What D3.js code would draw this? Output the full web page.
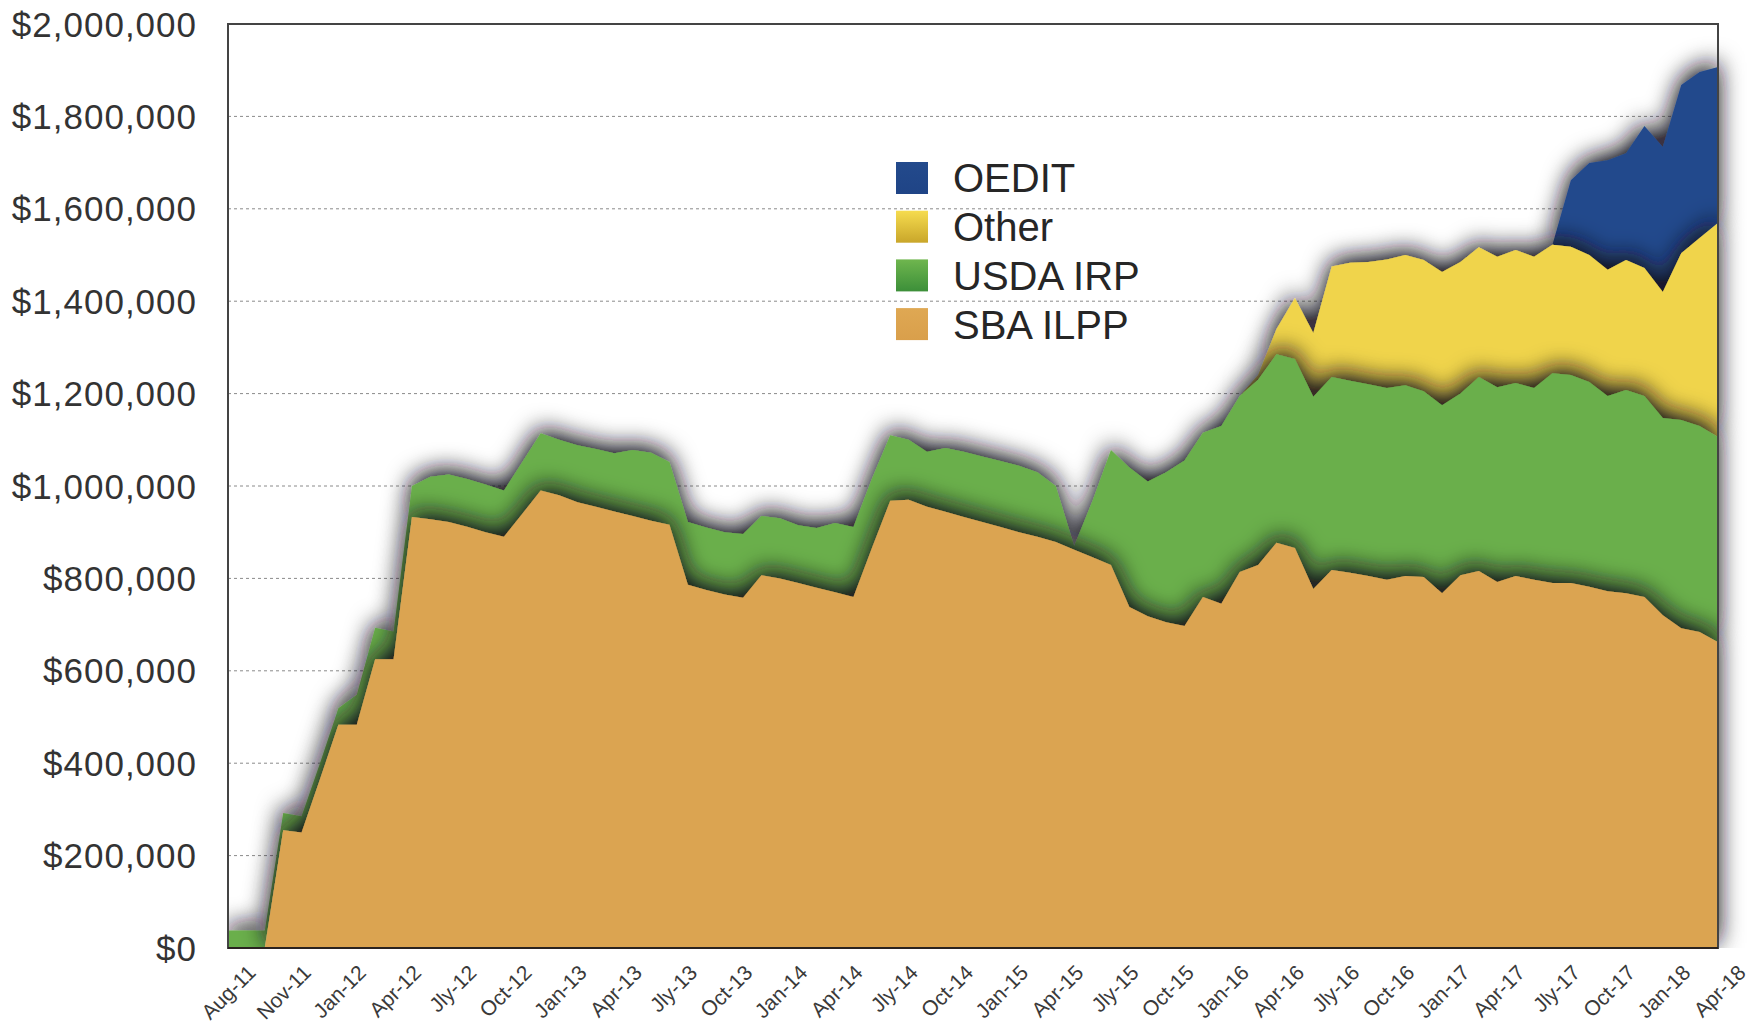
<!DOCTYPE html>
<html>
<head>
<meta charset="utf-8">
<script src="https://cdn.jsdelivr.net/npm/d3@7"></script>
<style>
    body { margin: 0; background: #fff; }
    svg { display: block; font-family: "Liberation Sans", Arial, sans-serif; }
</style>
</head>
<body>
<svg width="1761" height="1027"></svg>
<script>
// tick labels under the x axis, one every third data point
const tickLabels = ["Aug-11", "Nov-11", "Jan-12", "Apr-12", "Jly-12", "Oct-12", "Jan-13", "Apr-13",
    "Jly-13", "Oct-13", "Jan-14", "Apr-14", "Jly-14", "Oct-14", "Jan-15", "Apr-15", "Jly-15",
    "Oct-15", "Jan-16", "Apr-16", "Jly-16", "Oct-16", "Jan-17", "Apr-17", "Jly-17", "Oct-17",
    "Jan-18", "Apr-18"];

// values in thousands of dollars, one per month
const sbaIlpp = [0, 0, 0, 255, 250, 365, 483, 483, 625, 625,
    933, 928, 922, 912, 900, 890, 940, 990, 980, 965,
    955, 945, 935, 925, 916, 786, 775, 765, 758, 807,
    800, 790, 780, 770, 760, 865, 968, 970, 955, 944,
    933, 922, 911, 900, 890, 879, 862, 846, 829, 738,
    718, 705, 697, 760, 745, 814, 829, 877, 866, 777,
    818, 812, 805, 797, 805, 803, 768, 807, 816, 792,
    805, 797, 790, 790, 782, 772, 768, 760, 720, 692,
    684, 662];

const usdaIrp = [38, 38, 38, 37, 35, 35, 36, 65, 68, 60,
    67, 92, 103, 103, 103, 100, 112, 124, 120, 123,
    125, 126, 143, 147, 136, 136, 135, 135, 138, 128,
    130, 125, 129, 150, 151, 150, 142, 130, 119, 138,
    141, 142, 143, 144, 140, 121, 8, 122, 249, 302,
    292, 325, 358, 355, 385, 381, 401, 408, 409, 416,
    418, 416, 415, 415, 413, 402, 407, 393, 420, 422,
    418, 415, 454, 450, 443, 423, 440, 435, 427, 451,
    446, 444];

const other = [0, 0, 0, 0, 0, 0, 0, 0, 0, 0,
    0, 0, 0, 0, 0, 0, 0, 0, 0, 0,
    0, 0, 0, 0, 0, 0, 0, 0, 0, 0,
    0, 0, 0, 0, 0, 0, 0, 0, 0, 0,
    0, 0, 0, 0, 0, 0, 0, 0, 0, 0,
    0, 0, 0, 0, 0, 0, 10, 55, 132, 138,
    239, 255, 265, 278, 282, 284, 288, 285, 281, 282,
    288, 284, 278, 278, 275, 273, 281, 277, 273, 361,
    407, 463];

const oedit = [0, 0, 0, 0, 0, 0, 0, 0, 0, 0,
    0, 0, 0, 0, 0, 0, 0, 0, 0, 0,
    0, 0, 0, 0, 0, 0, 0, 0, 0, 0,
    0, 0, 0, 0, 0, 0, 0, 0, 0, 0,
    0, 0, 0, 0, 0, 0, 0, 0, 0, 0,
    0, 0, 0, 0, 0, 0, 0, 0, 0, 0,
    0, 0, 0, 0, 0, 0, 0, 0, 0, 0,
    0, 0, 0, 144, 199, 237, 231, 307, 314, 364,
    359, 338];

const yTicks = [0, 200000, 400000, 600000, 800000, 1000000, 1200000, 1400000, 1600000, 1800000, 2000000];

const seriesNames = ["SBA ILPP", "USDA IRP", "Other", "OEDIT"];
const seriesColors = ["#dba451", "#6aaf4c", "#f0d44b", "#234a8c"];

const svg = d3.select("svg"),
    plotLeft = 228, plotRight = 1718, plotTop = 24, plotBottom = 948;

const rows = sbaIlpp.map((v, i) => ({
    "SBA ILPP": v * 1000,
    "USDA IRP": usdaIrp[i] * 1000,
    "Other": other[i] * 1000,
    "OEDIT": oedit[i] * 1000
}));

const x = d3.scaleLinear().domain([0, rows.length - 1]).range([plotLeft, plotRight]);
const y = d3.scaleLinear().domain([0, 2000000]).range([plotBottom, plotTop]);

const defs = svg.append("defs");

// soft dark halo around every layer
let filter = defs.append("filter")
    .attr("id", "shadow")
    .attr("filterUnits", "userSpaceOnUse")
    .attr("x", 100).attr("y", 0).attr("width", 1700).attr("height", 1000);
filter.append("feGaussianBlur").attr("in", "SourceAlpha").attr("stdDeviation", 12);
filter.append("feOffset").attr("dx", 0).attr("dy", -5).attr("result", "off");
let boost = filter.append("feComponentTransfer").attr("in", "off").attr("result", "blur");
boost.append("feFuncA").attr("type", "linear").attr("slope", 1.3);
filter.append("feFlood").attr("flood-color", "#15111c").attr("flood-opacity", 0.85);
filter.append("feComposite").attr("in2", "blur").attr("operator", "in");
let merge = filter.append("feMerge");
merge.append("feMergeNode");
merge.append("feMergeNode").attr("in", "SourceGraphic");

defs.append("clipPath").attr("id", "plotClip")
    .append("rect")
    .attr("x", plotLeft).attr("y", 0)
    .attr("width", 1761 - plotLeft).attr("height", plotBottom);

// legend swatch gradients
function gradient(id, c1, c2) {
    let g = defs.append("linearGradient").attr("id", id)
        .attr("x1", 0).attr("y1", 0).attr("x2", 0).attr("y2", 1);
    g.append("stop").attr("offset", "0%").attr("stop-color", c1);
    g.append("stop").attr("offset", "100%").attr("stop-color", c2);
}
gradient("gOEDIT", "#234a8c", "#1f4486");
gradient("gOther", "#f6dc4f", "#c9a62a");
gradient("gUSDA", "#6fb64e", "#3c8f39");
gradient("gSBA", "#dfa853", "#d99f4b");

// gridlines
svg.append("g")
    .selectAll("line")
    .data(yTicks.filter(d => d > 0 && d < 2000000))
    .enter()
    .append("line")
    .attr("x1", plotLeft).attr("x2", plotRight)
    .attr("y1", d => y(d)).attr("y2", d => y(d))
    .attr("stroke", "#8a8a8a")
    .attr("stroke-width", 1)
    .attr("stroke-dasharray", "3,3");

// stacked areas, upper layers first so each lower one throws its shadow upward
const stack = d3.stack().keys(seriesNames);
const layers = stack(rows);

const area = d3.area()
    .x((d, i) => x(i))
    .y0(d => y(d[0]))
    .y1(d => y(d[1]));

const plot = svg.append("g").attr("clip-path", "url(#plotClip)");

layers.slice().reverse().forEach(layer => {
    plot.append("path")
        .datum(layer)
        .attr("d", area)
        .attr("fill", seriesColors[layer.index])
        .attr("filter", "url(#shadow)");
});

// frame
svg.append("rect")
    .attr("x", plotLeft).attr("y", plotTop)
    .attr("width", plotRight - plotLeft).attr("height", plotBottom - plotTop)
    .attr("fill", "none")
    .attr("stroke", "#444")
    .attr("stroke-width", 2);

svg.append("line")
    .attr("x1", plotLeft).attr("x2", plotRight)
    .attr("y1", plotBottom).attr("y2", plotBottom)
    .attr("stroke", "#2a2320")
    .attr("stroke-width", 2);

// y axis labels
svg.append("g")
    .selectAll("text")
    .data(yTicks)
    .enter()
    .append("text")
    .attr("x", 197)
    .attr("y", d => y(d))
    .attr("dy", "0.36em")
    .attr("text-anchor", "end")
    .attr("font-size", 35)
    .attr("letter-spacing", 1)
    .attr("fill", "#333")
    .text(d => "$" + d3.format(",")(d));

// x axis labels
svg.append("g")
    .selectAll("text")
    .data(tickLabels)
    .enter()
    .append("text")
    .attr("transform", (d, i) => `translate(${x(i * 3) + 29}, 974) rotate(-45)`)
    .attr("text-anchor", "end")
    .attr("font-size", 21)
    .attr("fill", "#3a3a3a")
    .text(d => d);

// legend
const legendItems = [
    { name: "OEDIT", fill: "url(#gOEDIT)" },
    { name: "Other", fill: "url(#gOther)" },
    { name: "USDA IRP", fill: "url(#gUSDA)" },
    { name: "SBA ILPP", fill: "url(#gSBA)" }
];

let legend = svg.append("g")
    .selectAll("g")
    .data(legendItems)
    .enter()
    .append("g")
    .attr("transform", (d, i) => `translate(896, ${162 + i * 48.7})`);

legend.append("rect")
    .attr("width", 32).attr("height", 32)
    .attr("fill", d => d.fill);

legend.append("text")
    .attr("x", 57).attr("y", 16)
    .attr("dy", "0.36em")
    .attr("font-size", 40)
    .attr("fill", "#262626")
    .text(d => d.name);
</script>
</body>
</html>
